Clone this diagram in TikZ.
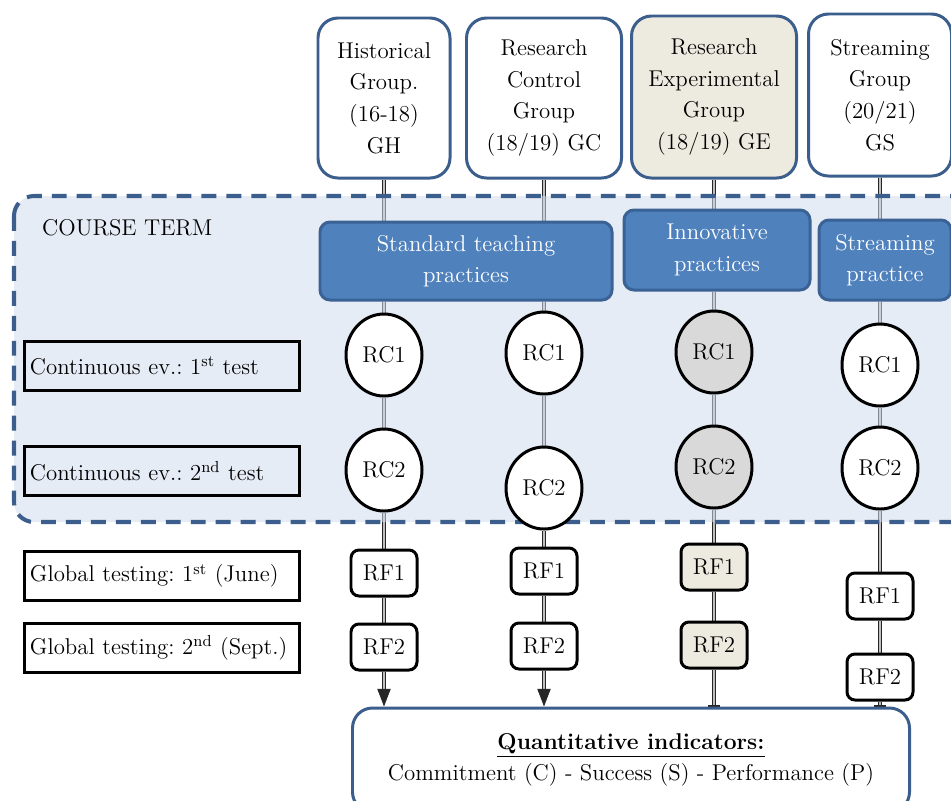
\documentclass[tikz,border=0pt]{standalone}
\usepackage{tikz}
\usetikzlibrary{shapes.geometric,arrows.meta}

\definecolor{groupblue}{RGB}{59,94,140}
\definecolor{practicefill}{RGB}{79,129,189}
\definecolor{practiceline}{RGB}{58,98,148}
\definecolor{termfill}{RGB}{210,220,237}
\definecolor{beige}{RGB}{237,235,224}
\definecolor{rcgray}{RGB}{217,217,217}

\newcommand\grpfont{\fontsize{13}{18}\selectfont\frenchspacing}

\pgfdeclarelayer{lines}
\pgfdeclarelayer{termlayer}
\pgfsetlayers{lines,termlayer,main}

\tikzset{
	group/.style={draw=groupblue, line width=1.7pt, rounded corners=4mm, fill=white,
		align=center, font=\grpfont, inner sep=0pt},
	practice/.style={draw=practiceline, line width=1.7pt, rounded corners=2mm, fill=practicefill,
		text=white, align=center, font=\grpfont, inner sep=0pt},
	rc/.style={ellipse, draw=black, line width=1.7pt, fill=white, minimum width=15.2mm,
		minimum height=16.4mm, inner sep=0pt, font=\grpfont},
	rf/.style={draw=black, line width=1.7pt, rounded corners=1.6mm, fill=white, minimum width=13.2mm,
		minimum height=9.2mm, inner sep=0pt, font=\grpfont},
	stage/.style={draw=black, line width=1.7pt, text width=52.8mm, inner xsep=1.1mm, minimum height=9.8mm,
		align=left, font=\grpfont},
	termbox/.style={draw=groupblue, line width=2.3pt, dash pattern=on 8.5pt off 5.7pt,
		rounded corners=4mm, fill=termfill, fill opacity=0.55, draw opacity=1},
	link/.style={draw=black!85, line width=0.7pt, double=black!25, double distance=1.4pt},
}

\begin{document}
\begin{tikzpicture}[x=0.2mm,y=-0.2mm]
	\useasboundingbox (0,0) rectangle (951,800);

	% groups
	\node[group, minimum width=26.4mm, minimum height=32mm] (gh) at (384,98) {Historical\\Group.\\(16-18)\\GH};
	\node[group, minimum width=31mm, minimum height=32mm] (gc) at (544,98) {Research\\Control\\Group\\(18/19) GC};
	\node[group, fill=beige, minimum width=33mm, minimum height=32.4mm] (ge) at (714,97) {Research\\Experimental\\Group\\(18/19) GE};
	\node[group, minimum width=28.6mm, minimum height=32.4mm] (gs) at (880,95) {Streaming\\Group\\(20/21)\\GS};

	% course term
	\node[anchor=west, font=\grpfont] (term) at (36,228) {COURSE TERM};
	\node[practice, minimum width=58.4mm, minimum height=15.6mm] (std) at (466,261) {Standard teaching\\practices};
	\node[practice, minimum width=37.2mm, minimum height=16mm] (inno) at (717,250) {Innovative\\practices};
	\node[practice, minimum width=26.4mm, minimum height=16mm] (strm) at (885,260) {Streaming\\practice};

	\node[stage] (ev1) at (162,366) {Continuous ev.: 1\textsuperscript{st} test};
	\node[stage] (ev2) at (162,471) {Continuous ev.: 2\textsuperscript{nd} test};
	\node[stage] (gt1) at (162,576) {Global testing: 1\textsuperscript{st} (June)};
	\node[stage] (gt2) at (162,648) {Global testing: 2\textsuperscript{nd} (Sept.)};

	\node[rc] (gh1) at (384,355) {RC1};
	\node[rc] (gh2) at (384,470) {RC2};
	\node[rc] (gc1) at (544,353) {RC1};
	\node[rc] (gc2) at (544,488) {RC2};
	\node[rc, fill=rcgray] (ge1) at (714,352) {RC1};
	\node[rc, fill=rcgray] (ge2) at (714,467) {RC2};
	\node[rc] (gs1) at (880,365) {RC1};
	\node[rc] (gs2) at (880,468) {RC2};

	\node[rf] (ghf1) at (384,573) {RF1};
	\node[rf] (ghf2) at (384,647) {RF2};
	\node[rf] (gcf1) at (544,571) {RF1};
	\node[rf] (gcf2) at (544,646) {RF2};
	\node[rf, fill=beige] (gef1) at (714,567) {RF1};
	\node[rf, fill=beige] (gef2) at (714,645) {RF2};
	\node[rf] (gsf1) at (880,596) {RF1};
	\node[rf] (gsf2) at (880,677) {RF2};

	\node[group, minimum width=111.4mm, minimum height=20.8mm] (ind) at (631,760)
		{\underline{\textbf{Quantitative indicators:}}\\Commitment (C) - Success (S) - Performance (P)};

	\begin{pgfonlayer}{termlayer}
		\draw[termbox] (14,196) rectangle (985,522);
	\end{pgfonlayer}

	\begin{pgfonlayer}{lines}
		% GH
		\draw[link] (gh) -- (gh |- std.north);
		\draw[link] (gh |- std.south) -- (gh1);
		\draw[link] (gh1) -- (gh2);
		\draw[link] (gh2) -- (ghf1);
		\draw[link] (ghf1) -- (ghf2);
		\draw[link, -{Triangle[length=10pt, width=7.5pt]}] (ghf2) -- (gh |- ind.north);
		% GC
		\draw[link] (gc) -- (gc |- std.north);
		\draw[link] (gc |- std.south) -- (gc1);
		\draw[link] (gc1) -- (gc2);
		\draw[link] (gc2) -- (gcf1);
		\draw[link] (gcf1) -- (gcf2);
		\draw[link, -{Triangle[length=10pt, width=7.5pt]}] (gcf2) -- (gc |- ind.north);
		% GE
		\draw[link] (ge) -- (ge |- inno.north);
		\draw[link] (ge |- inno.south) -- (ge1);
		\draw[link] (ge1) -- (ge2);
		\draw[link] (ge2) -- (gef1);
		\draw[link] (gef1) -- (gef2);
		\draw[link, -{Bar[width=7pt]}] (gef2) -- (ge |- ind.north);
		% GS
		\draw[link] (gs) -- (gs |- strm.north);
		\draw[link] (gs |- strm.south) -- (gs1);
		\draw[link] (gs1) -- (gs2);
		\draw[link] (gs2) -- (gsf1);
		\draw[link] (gsf1) -- (gsf2);
		\draw[link, -{Bar[width=7pt]}] (gsf2) -- (gs |- ind.north);
	\end{pgfonlayer}
\end{tikzpicture}
\end{document}
